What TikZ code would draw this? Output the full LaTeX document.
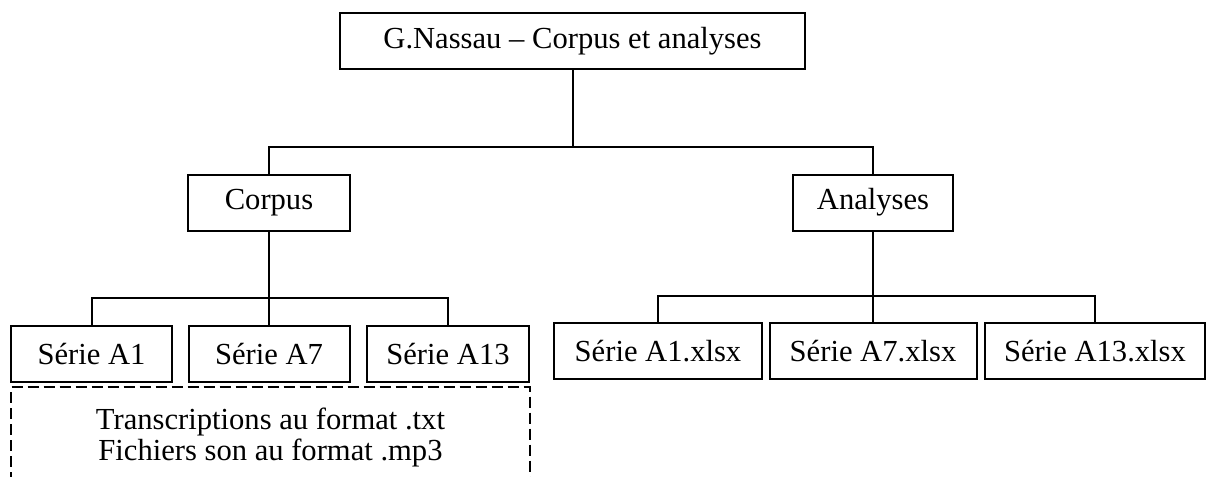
\documentclass[tikz,border=0pt]{standalone}
\usepackage{fontspec}
\setmainfont{Liberation Serif}

\begin{document}
\begin{tikzpicture}[x=0.5pt, y=-0.5pt, line width=1pt,
    box/.style={draw, minimum height=28pt, inner sep=0pt,
        font=\fontsize{15.3}{14}\selectfont},
    notebox/.style={inner sep=0pt, align=center,
        minimum width=258.5pt, minimum height=44.5pt,
        font=\fontsize{15.3}{15.5}\selectfont}]

    \useasboundingbox (0,0) rectangle (1206,477);

    % racine
    \node[box, minimum width=232.5pt] (root) at (572.5,41)
        {G.Nassau -- Corpus et analyses};

    \node[box, minimum width=81pt] (corpus) at (269,202.5) {Corpus};
    \node[box, minimum width=80pt] (analyses) at (873,202.5) {Analyses};

    % series
    \node[box, minimum width=80.5pt] (sA1) at (91.5,354) {Série A1};
    \node[box, minimum width=80.5pt] (sA7) at (269,354) {Série A7};
    \node[box, minimum width=81pt] (sA13) at (448,354) {Série A13};

    \node[box, minimum width=104pt] (xA1) at (658,351) {Série A1.xlsx};
    \node[box, minimum width=103.5pt] (xA7) at (873,351) {Série A7.xlsx};
    \node[box, minimum width=110pt] (xA13) at (1095,351) {Série A13.xlsx};

    \node[notebox] (fmt) at (270.5,437)
        {Transcriptions au format .txt\\Fichiers son au format .mp3};
    \draw[dash pattern=on 5.5pt off 2.5pt]
        (fmt.south west) -- ([yshift=2.25pt]fmt.north west)
        -- ([yshift=2.25pt]fmt.north east) -- (fmt.south east);

    \coordinate (tbus) at (572.5,147);
    \coordinate (cbus) at (269,298);
    \coordinate (abus) at (873,296);

    \draw (root.south) -- (tbus);
    \draw (corpus.north) |- (tbus) -| (analyses.north);

    \draw (corpus.south) -- (sA7.north);
    \draw (sA1.north) |- (cbus) -| (sA13.north);

    \draw (analyses.south) -- (xA7.north);
    \draw (xA1.north) |- (abus) -| (xA13.north);
\end{tikzpicture}
\end{document}
